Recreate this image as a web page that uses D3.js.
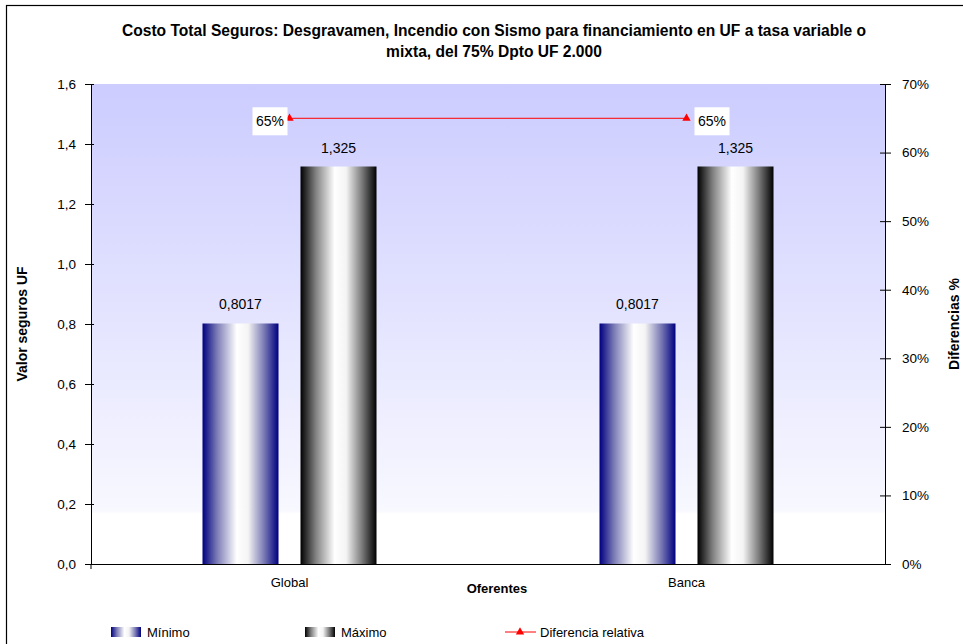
<!DOCTYPE html>
<html>
<head>
<meta charset="utf-8">
<script src="https://cdn.jsdelivr.net/npm/d3@7"></script>
<style>
  body { margin: 0; background: #fff; }
  text { font-family: "Liberation Sans", Arial, sans-serif; fill: #000; }
</style>
</head>
<body>
<svg id="chart" width="963" height="644"></svg>
<script>
// chart data
const categories = ['Global', 'Banca'];
const minimo = [0.8017, 0.8017];
const maximo = [1.325, 1.325];
const diferencia = [0.65, 0.65];
const leftTicks = [0, 0.2, 0.4, 0.6, 0.8, 1.0, 1.2, 1.4, 1.6];
const rightTicks = [0, 0.1, 0.2, 0.3, 0.4, 0.5, 0.6, 0.7];
const seriesNames = ['Mínimo', 'Máximo', 'Diferencia relativa'];

const svg = d3.select('#chart');
const margin = { left: 91, right: 885, top: 84, bottom: 564 };

const fmtComma = d3.formatLocale({ decimal: ',', thousands: '.', grouping: [3], currency: ['', ''] });
const fmt1 = fmtComma.format('.1f');

const defs = svg.append('defs');

// plot background gradient
const bg = defs.append('linearGradient').attr('id', 'bgGrad')
  .attr('x1', 0).attr('y1', 0).attr('x2', 0).attr('y2', 1);
bg.append('stop').attr('offset', '0%').attr('stop-color', '#ccccff');
bg.append('stop').attr('offset', '89%').attr('stop-color', '#f8f8ff');
bg.append('stop').attr('offset', '89.5%').attr('stop-color', '#ffffff');
bg.append('stop').attr('offset', '100%').attr('stop-color', '#ffffff');

// bar gradients (horizontal cylinder look)
function barGradient(id, dark, mid) {
  const g = defs.append('linearGradient').attr('id', id)
    .attr('x1', 0).attr('y1', 0).attr('x2', 1).attr('y2', 0);
  g.append('stop').attr('offset', '0%').attr('stop-color', dark);
  g.append('stop').attr('offset', '20%').attr('stop-color', mid);
  g.append('stop').attr('offset', '45%').attr('stop-color', '#ffffff');
  g.append('stop').attr('offset', '60%').attr('stop-color', '#f4f4f4');
  g.append('stop').attr('offset', '80%').attr('stop-color', mid);
  g.append('stop').attr('offset', '100%').attr('stop-color', dark);
}
barGradient('gradMin', '#000080', '#8080b8');
barGradient('gradMax', '#000000', '#808080');

// outer chart border
svg.append('rect')
  .attr('x', 6.5).attr('y', 5.5).attr('width', 980).attr('height', 660)
  .attr('fill', 'none').attr('stroke', '#000').attr('stroke-width', 1.2);

// scales
const x0 = d3.scaleBand().domain(categories).range([margin.left, margin.right]);
const y = d3.scaleLinear().domain([0, 1.6]).range([margin.bottom, margin.top]);
const y2 = d3.scaleLinear().domain([0, 0.7]).range([margin.bottom, margin.top]);
const barW = 76, barGap = 22;

svg.append('rect')
  .attr('x', margin.left).attr('y', margin.top)
  .attr('width', margin.right - margin.left).attr('height', margin.bottom - margin.top)
  .attr('fill', 'url(#bgGrad)');

// bars
function barX(i, k) {
  const c = x0(categories[i]) + x0.bandwidth() / 2;
  return k === 0 ? c - barGap / 2 - barW : c + barGap / 2;
}
[[minimo, 'gradMin'], [maximo, 'gradMax']].forEach(([vals, grad], k) => {
  svg.append('g').selectAll('rect').data(vals).join('rect')
    .attr('x', (d, i) => barX(i, k))
    .attr('y', d => y(d))
    .attr('width', barW)
    .attr('height', d => y(0) - y(d))
    .attr('fill', `url(#${grad})`);
  svg.append('g').selectAll('text').data(vals).join('text')
    .attr('x', (d, i) => barX(i, k) + barW / 2)
    .attr('y', d => y(d) - 14)
    .attr('text-anchor', 'middle')
    .attr('font-size', 14)
    .text(d => k === 0 ? d3.format('.4f')(d).replace('.', ',') : d3.format('.3f')(d).replace('.', ','));
});

// axes
const tickFont = 13.5;
const leftAxis = svg.append('g').attr('transform', `translate(${margin.left},0)`)
  .call(d3.axisLeft(y).tickValues(leftTicks).tickFormat(fmt1).tickSize(5).tickSizeOuter(0).tickPadding(10));
leftAxis.selectAll('line').attr('x2', -6).attr('x1', 3);
leftAxis.selectAll('text').attr('font-size', tickFont).style('font-family', '"Liberation Sans", Arial, sans-serif');

const rightAxis = svg.append('g').attr('transform', `translate(${margin.right},0)`)
  .call(d3.axisRight(y2).tickValues(rightTicks).tickFormat(d3.format('.0%')).tickSize(5).tickSizeOuter(0).tickPadding(12));
rightAxis.selectAll('line').attr('x2', 6).attr('x1', -5);
rightAxis.selectAll('text').attr('font-size', tickFont).style('font-family', '"Liberation Sans", Arial, sans-serif');

const bottomAxis = svg.append('g').attr('transform', `translate(0,${margin.bottom})`)
  .call(d3.axisBottom(x0).tickSize(0).tickSizeOuter(0).tickPadding(14));
bottomAxis.selectAll('text').attr('font-size', 13).style('font-family', '"Liberation Sans", Arial, sans-serif');
bottomAxis.append('line').attr('x1', margin.left).attr('x2', margin.left)
  .attr('y1', 0).attr('y2', 5).attr('stroke', '#000');
[leftAxis, rightAxis, bottomAxis].forEach(a => a.selectAll('.domain').attr('stroke', '#000'));

// diferencia line
const cx = c => x0(c) + x0.bandwidth() / 2;
svg.append('path')
  .datum(diferencia)
  .attr('fill', 'none').attr('stroke', '#ff0000').attr('stroke-width', 1)
  .attr('d', d3.line().x((d, i) => cx(categories[i])).y(d => y2(d)));
svg.append('g').selectAll('path').data(diferencia).join('path')
  .attr('transform', (d, i) => `translate(${cx(categories[i])},${y2(d)})`)
  .attr('d', d3.symbol(d3.symbolTriangle, 30))
  .attr('fill', '#ff0000');

// diferencia labels in white boxes
diferencia.forEach((d, i) => {
  const px = cx(categories[i]);
  const bx = i === 0 ? px - 37 : px + 8;
  svg.append('rect').attr('x', bx).attr('y', y2(d) - 11).attr('width', 35).attr('height', 28)
    .attr('fill', '#fff');
  svg.append('text').attr('x', bx + 17.5).attr('y', y2(d) + 8)
    .attr('text-anchor', 'middle').attr('font-size', 14)
    .text(d3.format('.0%')(d));
});

// titles
const title = svg.append('text').attr('text-anchor', 'middle').attr('font-size', 15.6).attr('font-weight', 'bold');
title.append('tspan').attr('x', 494).attr('y', 36).text('Costo Total Seguros: Desgravamen, Incendio con Sismo para financiamiento en UF a tasa variable o');
title.append('tspan').attr('x', 494).attr('y', 57).text('mixta, del 75% Dpto UF 2.000');

svg.append('text').attr('x', 497).attr('y', 593).attr('text-anchor', 'middle')
  .attr('font-size', 13).attr('font-weight', 'bold').text('Oferentes');
svg.append('text').attr('transform', 'translate(27,324) rotate(-90)').attr('text-anchor', 'middle')
  .attr('font-size', 14).attr('font-weight', 'bold').text('Valor seguros UF');
svg.append('text').attr('transform', 'translate(959,324) rotate(-90)').attr('text-anchor', 'middle')
  .attr('font-size', 14).attr('font-weight', 'bold').text('Diferencias %');

// legend
const legend = svg.append('g');
const legY = 632;
legend.append('rect').attr('x', 111).attr('y', legY - 5).attr('width', 30).attr('height', 10).attr('fill', 'url(#gradMin)');
legend.append('text').attr('x', 147).attr('y', legY + 5).attr('font-size', 13).text(seriesNames[0]);
legend.append('rect').attr('x', 305).attr('y', legY - 5).attr('width', 30).attr('height', 10).attr('fill', 'url(#gradMax)');
legend.append('text').attr('x', 341).attr('y', legY + 5).attr('font-size', 13).text(seriesNames[1]);
legend.append('line').attr('x1', 505).attr('x2', 536).attr('y1', legY).attr('y2', legY)
  .attr('stroke', '#ff0000');
legend.append('path').attr('transform', `translate(520,${legY})`)
  .attr('d', d3.symbol(d3.symbolTriangle, 30)).attr('fill', '#ff0000');
legend.append('text').attr('x', 540).attr('y', legY + 5).attr('font-size', 13).text(seriesNames[2]);
</script>
</body>
</html>
